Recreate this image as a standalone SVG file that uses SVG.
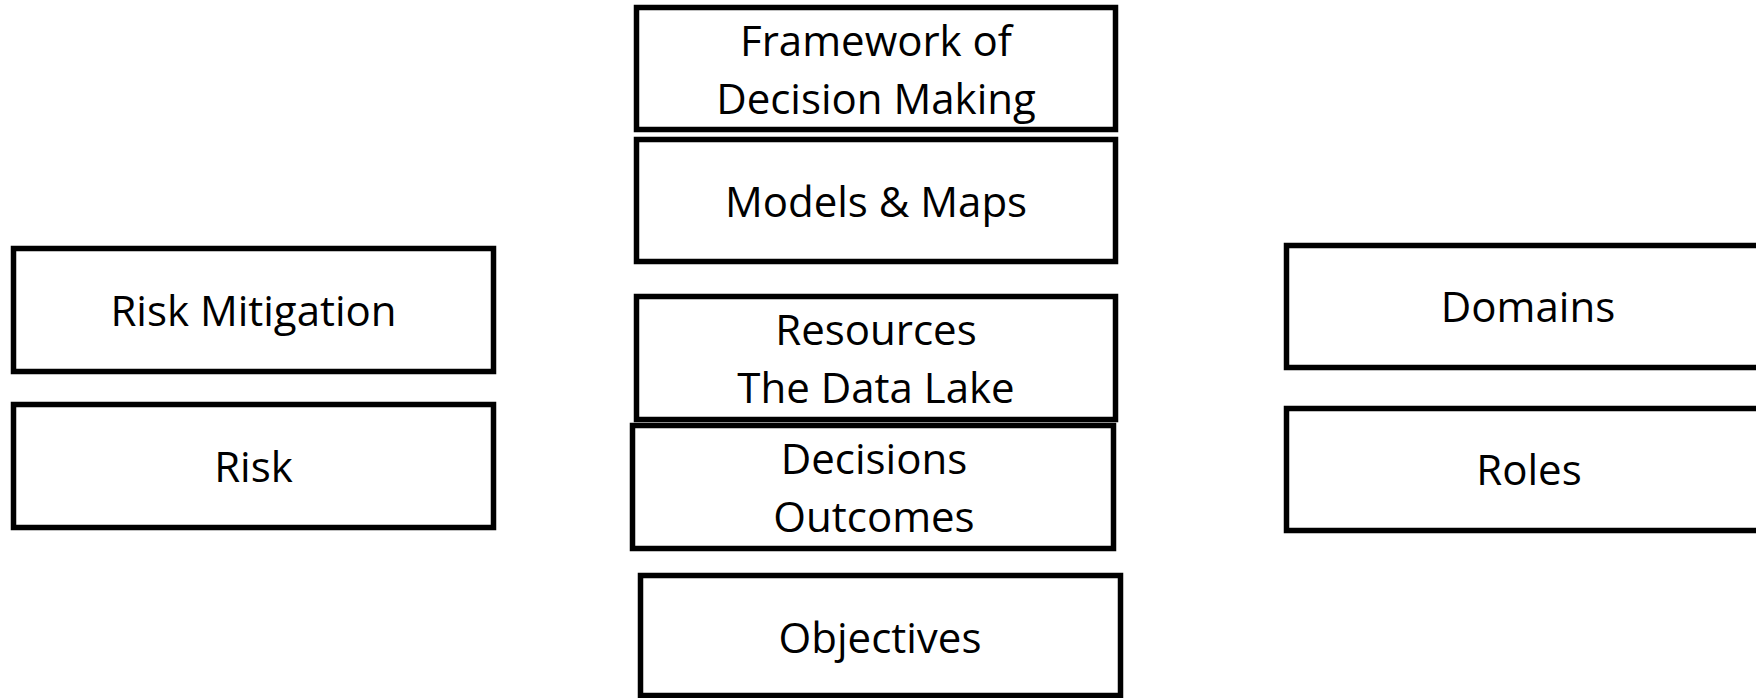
<svg xmlns="http://www.w3.org/2000/svg" width="1756" height="698" viewBox="0 0 1756 698">
<style>
.box{fill:#ffffff;stroke:#000000;stroke-width:5.5}
.lbl{font-family:"Open Sans","Noto Sans","Liberation Sans",sans-serif;font-size:42px;fill:#000000;text-anchor:middle}
</style>
<rect x="0" y="0" width="1756" height="698" fill="#ffffff"/>
<g id="connectors"></g>
<g id="framework">
<rect class="box" x="636.5" y="7.5" width="479" height="122"/>
<text class="lbl" x="876" y="56">Framework of</text>
<text class="lbl" x="876" y="114">Decision Making</text>
</g>
<g id="models">
<rect class="box" x="636.5" y="139.5" width="479" height="122"/>
<text class="lbl" x="876" y="217">Models &amp; Maps</text>
</g>
<g id="risk-mitigation">
<rect class="box" x="13.5" y="248.5" width="480" height="123"/>
<text class="lbl" x="253.5" y="326">Risk Mitigation</text>
</g>
<g id="risk">
<rect class="box" x="13.5" y="404.5" width="480" height="123"/>
<text class="lbl" x="253.5" y="482">Risk</text>
</g>
<g id="resources">
<rect class="box" x="636.5" y="296.5" width="479" height="123"/>
<text class="lbl" x="876" y="345">Resources</text>
<text class="lbl" x="876" y="403">The Data Lake</text>
</g>
<g id="decisions">
<rect class="box" x="632.5" y="425.5" width="481" height="123"/>
<text class="lbl" x="874" y="474">Decisions</text>
<text class="lbl" x="874" y="532">Outcomes</text>
</g>
<g id="objectives">
<rect class="box" x="640.5" y="575.5" width="480" height="120"/>
<text class="lbl" x="880" y="653">Objectives</text>
</g>
<g id="domains">
<rect class="box" x="1286.5" y="245.5" width="484" height="122"/>
<text class="lbl" x="1528" y="322">Domains</text>
</g>
<g id="roles">
<rect class="box" x="1286.5" y="408.5" width="484" height="122"/>
<text class="lbl" x="1529" y="485">Roles</text>
</g>
</svg>
